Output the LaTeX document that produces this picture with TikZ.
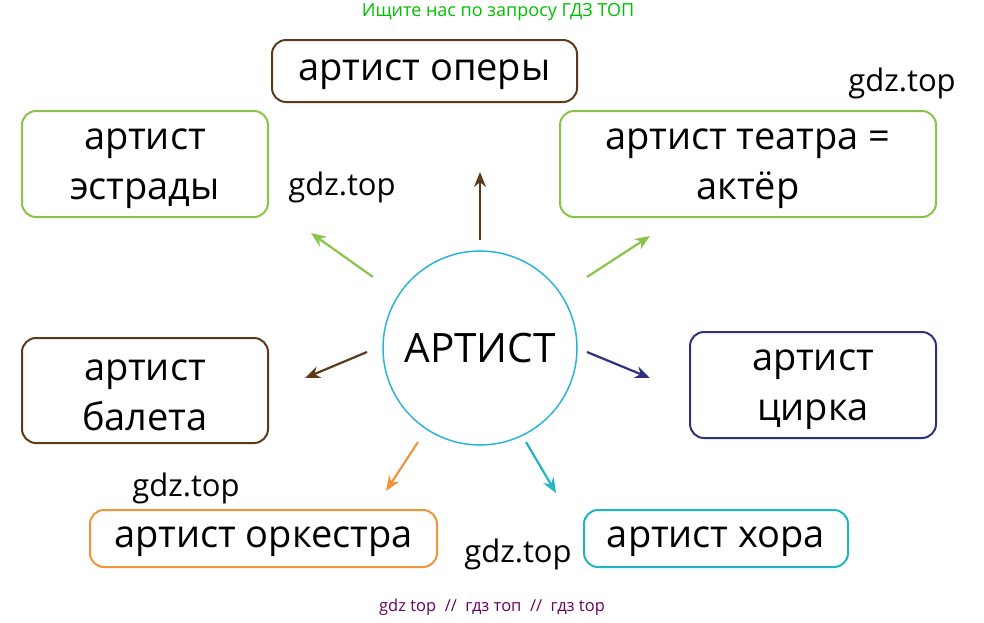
\documentclass[tikz,border=0pt]{standalone}
\usepackage{fontspec}
\setmainfont{Open Sans}
\usetikzlibrary{arrows.meta}
\definecolor{cgreen}{HTML}{8BC34A}
\definecolor{cbrown}{HTML}{5D3A1A}
\definecolor{cnavy}{HTML}{2E3180}
\definecolor{corange}{HTML}{F0953A}
\definecolor{cteal}{HTML}{1FB5C4}
\definecolor{ccyan}{HTML}{29B6D6}
\begin{document}
\begin{tikzpicture}[x=1pt,y=-1pt,
 box/.style={draw=#1,line width=2pt,rounded corners=14pt,inner sep=0pt},
 lbl/.style={align=center,font=\fontsize{38}{50}\selectfont,inner sep=0pt},
 arr/.style={draw=#1,line width=2.2pt,-{Stealth[length=15pt,width=12pt]}},
 wm/.style={font=\fontsize{31}{34}\selectfont}]
\useasboundingbox (0,0) rectangle (984,622);
\node[draw=ccyan,line width=1.5pt,circle,minimum size=194pt,font=\fontsize{40.5}{44}\selectfont] (c) at (480,348) {АРТИСТ};
\node[box=cbrown,minimum width=305pt,minimum height=62pt] (op) at (424.5,71) {};
\node[box=cgreen,minimum width=246pt,minimum height=106pt] (es) at (145,164) {};
\node[box=cgreen,minimum width=376pt,minimum height=106pt] (te) at (748,164) {};
\node[box=cbrown,minimum width=246pt,minimum height=105pt] (ba) at (145,390.5) {};
\node[box=cnavy,minimum width=246pt,minimum height=106pt] (ci) at (813,385) {};
\node[box=corange,minimum width=347pt,minimum height=57pt] (or) at (263.5,538.5) {};
\node[box=cteal,minimum width=264pt,minimum height=57pt] (ho) at (716,538.5) {};
\node[lbl] (opt) at ([yshift=-4pt]op.center) {артист оперы};
\node[lbl] (est) at ([yshift=-5pt]es.center) {артист\\эстрады};
\node[lbl] (tet) at ([yshift=-5pt]te.center) {артист театра =\\актёр};
\node[lbl] (bat) at ([yshift=-5pt]ba.center) {артист\\балета};
\node[lbl] (cit) at ([yshift=-5pt]ci.center) {артист\\цирка};
\node[lbl] (ort) at ([yshift=-3pt]or.center) {артист оркестра};
\node[lbl] (hot) at ([yshift=-3pt]ho.center) {артист хора};
\coordinate (a1) at (480,240); \coordinate (b1) at (480,172);
\coordinate (a2) at (373,277); \coordinate (b2) at (311,233);
\coordinate (a3) at (587,277); \coordinate (b3) at (650,236);
\coordinate (a4) at (367,352); \coordinate (b4) at (305,378);
\coordinate (a5) at (587,352); \coordinate (b5) at (650,378);
\coordinate (a6) at (418,442); \coordinate (b6) at (386,491);
\coordinate (a7) at (526,442); \coordinate (b7) at (556,493);
\draw[arr=cbrown] (a1) -- (b1);
\draw[arr=cgreen] (a2) -- (b2);
\draw[arr=cgreen] (a3) -- (b3);
\draw[arr=cbrown] (a4) -- (b4);
\draw[arr=cnavy] (a5) -- (b5);
\draw[arr=corange] (a6) -- (b6);
\draw[arr=cteal] (a7) -- (b7);
\node[wm] (w1) at (902,83) {gdz.top};
\node[wm] (w2) at (342,187) {gdz.top};
\node[wm] (w3) at (186,488) {gdz.top};
\node[wm] (w4) at (518,554) {gdz.top};
\node[text=green!75!black,font=\fontsize{18}{20}\selectfont] (t) at (498,12) {Ищите нас по запросу ГДЗ ТОП};
\node[text=violet!80!black,font=\fontsize{16.5}{18}\selectfont] (bt) at (492,607) {gdz top \ // \ гдз топ \ // \ гдз top};
\end{tikzpicture}
\end{document}
